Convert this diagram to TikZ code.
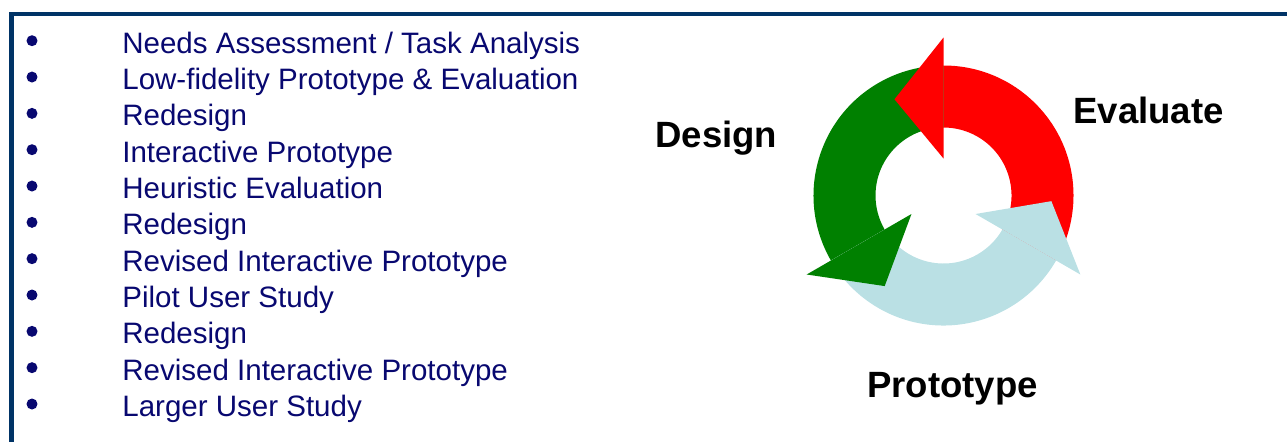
\documentclass[tikz,border=0pt]{standalone}
\usepackage{fontspec}
\setmainfont{Liberation Sans}

\definecolor{framecol}{RGB}{0,51,102}
\definecolor{listblue}{RGB}{8,8,112}
\definecolor{evalred}{RGB}{255,0,0}
\definecolor{designgreen}{RGB}{0,128,0}
\definecolor{protoblue}{RGB}{186,224,228}

\begin{document}
\begin{tikzpicture}[x=0.02cm,y=0.02cm,
    entry/.style={anchor=base west,inner sep=0pt,text=listblue,
      font=\fontsize{16.8}{20}\selectfont},
    dot/.style={circle,fill=listblue,inner sep=0pt,minimum size=0.22cm},
    phase/.style={anchor=base west,inner sep=0pt,
      font=\fontsize{20.8}{25}\selectfont\bfseries}]
  \clip (0,0) rectangle (1287,441);
  % frame, only top and left edges on the page
  \draw[framecol,line width=2.3pt] (11.5,-10) -- (11.5,427) -- (1300,427);

  % steps of the process
  \foreach \txt [count=\i] in {Needs Assessment / Task Analysis,
      Low-fidelity Prototype \& Evaluation, Redesign, Interactive Prototype,
      Heuristic Evaluation, Redesign, Revised Interactive Prototype,
      Pilot User Study, Redesign, Revised Interactive Prototype,
      Larger User Study}{
    \node[entry] (item\i) at (122,{387.8-36.33*(\i-1)}) {\txt};
    \node[dot] (dot\i) at (32,{400.3-36.33*(\i-1)}) {};
  }

  % the cycle: ring pieces first, heads on top
  \begin{scope}[shift={(943.5,245.5)}]
    \foreach \a/\col in {-30/evalred,90/designgreen,210/protoblue}
      \fill[\col] (\a:68) arc[start angle=\a,end angle=\a+120,radius=68]
        -- ({\a+120}:130) arc[start angle=\a+120,end angle=\a,radius=130]
        -- cycle;
    \foreach \a/\col in {90/evalred,210/designgreen,330/protoblue}
      \fill[\col] (\a:37) -- ({\a+27}:108) -- (\a:158) -- cycle;
  \end{scope}

  \node[phase] (design) at (655,294) {Design};
  \node[phase] (evaluate) at (1073,318) {Evaluate};
  \node[phase] (prototype) at (867,44) {Prototype};
\end{tikzpicture}
\end{document}
